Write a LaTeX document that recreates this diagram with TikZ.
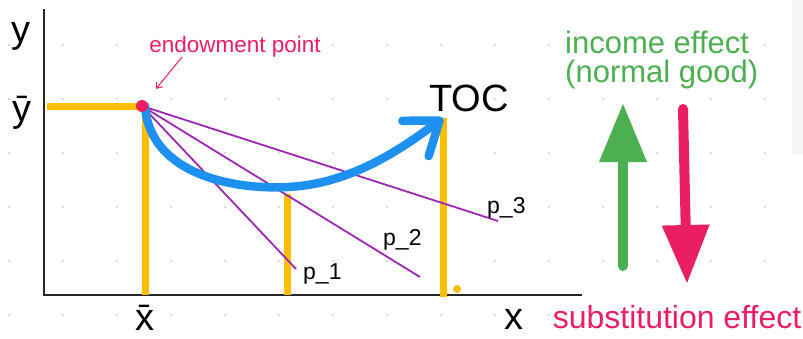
\documentclass[tikz,border=0pt]{standalone}
\usepackage{fontspec}
\setmainfont{Liberation Sans}
\usepackage{xcolor}
\usetikzlibrary{arrows.meta, calc}
\definecolor{amber}{HTML}{FFBE00}
\definecolor{endowred}{HTML}{E91E63}
\definecolor{incgreen}{HTML}{4CAF50}
\definecolor{tocblue}{HTML}{1E90F0}
\definecolor{purp}{HTML}{9C27B0}

\begin{document}
\begin{tikzpicture}[x=1pt, y=-1pt,
  every node/.style={inner sep=0pt},
  axis/.style={line width=2pt, black!85},
  endow/.style={line width=7pt, amber},
  budget/.style={line width=1.8pt, purp},
  toc/.style={line width=8.5pt, tocblue, line cap=round,
    -{Straight Barb[length=30pt, width=44pt, round]}},
  pointer/.style={line width=1pt, endowred, -{Straight Barb[length=5pt, width=8pt]}},
  bigarrow/.style={line width=10pt, line cap=round,
    -{Triangle[length=58pt, width=48pt, line width=0pt]}},
  axlabel/.style={font=\fontsize{38}{40}\selectfont, black},
  plabel/.style={font=\fontsize{23}{26}\selectfont},
  effect/.style={font=\fontsize{31}{31}\selectfont}]
  \useasboundingbox (0,0) rectangle (803,338);
  % faint dot grid
  \fill[gray!7] (792,0) rectangle (803,155);
  \foreach \gx in {9,63,...,765}
    \foreach \gy in {45,99,...,315}
      \fill[gray!30] (\gx,\gy) circle (1.4pt);
  % axes
  \coordinate (O) at (44,295);
  \coordinate (ytop) at (44,9);
  \coordinate (xend) at (582,295);
  \draw[axis] (ytop) -- (O) -- (xend);
  \node[axlabel, anchor=base] (ylab) at (21,42) {y};
  \node[axlabel, anchor=base] (ybarlab) at (22,121) {ȳ};
  \node[axlabel, anchor=base] (xbarlab) at (145,330) {x̄};
  \node[axlabel, anchor=base] (xlab) at (514,329) {x};
  % endowment and yellow guides
  \coordinate (ybar) at (47,106);
  \coordinate (Eguide) at (145,106);
  \coordinate (m) at (287,194);
  \coordinate (T) at (443,118);
  \draw[endow] (ybar) -- (Eguide) -- (Eguide |- O);
  \draw[endow] (m) -- (m |- O);
  \draw[endow] (T) -- ($(T |- O)+(0,2)$);
  \fill[amber] (457,289) circle (4pt);
  % budget lines p_1, p_2, p_3
  \coordinate (p1) at (296,269);
  \coordinate (p2) at (420,277);
  \coordinate (p3) at (498,221);
  \draw[budget] (Eguide) ++(-3,0) coordinate (E0) -- (p1);
  \draw[budget] (E0) -- (p2);
  \draw[budget] (E0) -- (p3);
  \node[plabel, anchor=base west] (p1lab) at (303,279) {p\_1};
  \node[plabel, anchor=base west] (p2lab) at (383,245) {p\_2};
  \node[plabel, anchor=base west] (p3lab) at (487,213) {p\_3};
  % TOC
  \draw[toc] (Eguide) .. controls (150,175) and (235,190) .. (288,187)
                      .. controls (350,184) and (400,150) .. (T);
  \node[font=\fontsize{38}{40}\selectfont, anchor=base west] (toclab) at (429,111) {TOC};
  % endowment point
  \node[circle, fill=endowred, minimum size=12pt] (E) at (E0) {};
  \node[font=\fontsize{22.5}{26}\selectfont, text=endowred, anchor=base] (endowtext) at (235,52) {endowment point};
  \coordinate (ptr) at (182,57);
  \draw[pointer, shorten >=16pt] (ptr) -- (E);
  % income and substitution effects
  \node[effect, text=incgreen, anchor=base west] (inc) at (565,53) {income effect};
  \node[effect, text=incgreen, anchor=base west] (normal) at (565,82) {(normal good)};
  \coordinate (inctail) at (623,266);
  \coordinate (inctip) at (623,104);
  \draw[bigarrow, incgreen] (inctail) -- (inctip);
  \coordinate (subtail) at (683,109);
  \coordinate (subtip) at (687,283);
  \draw[bigarrow, endowred] (subtail) -- (subtip);
  \node[effect, font=\fontsize{32}{32}\selectfont, text=endowred, anchor=base] (subst) at (677,328) {substitution effect};
\end{tikzpicture}
\end{document}
